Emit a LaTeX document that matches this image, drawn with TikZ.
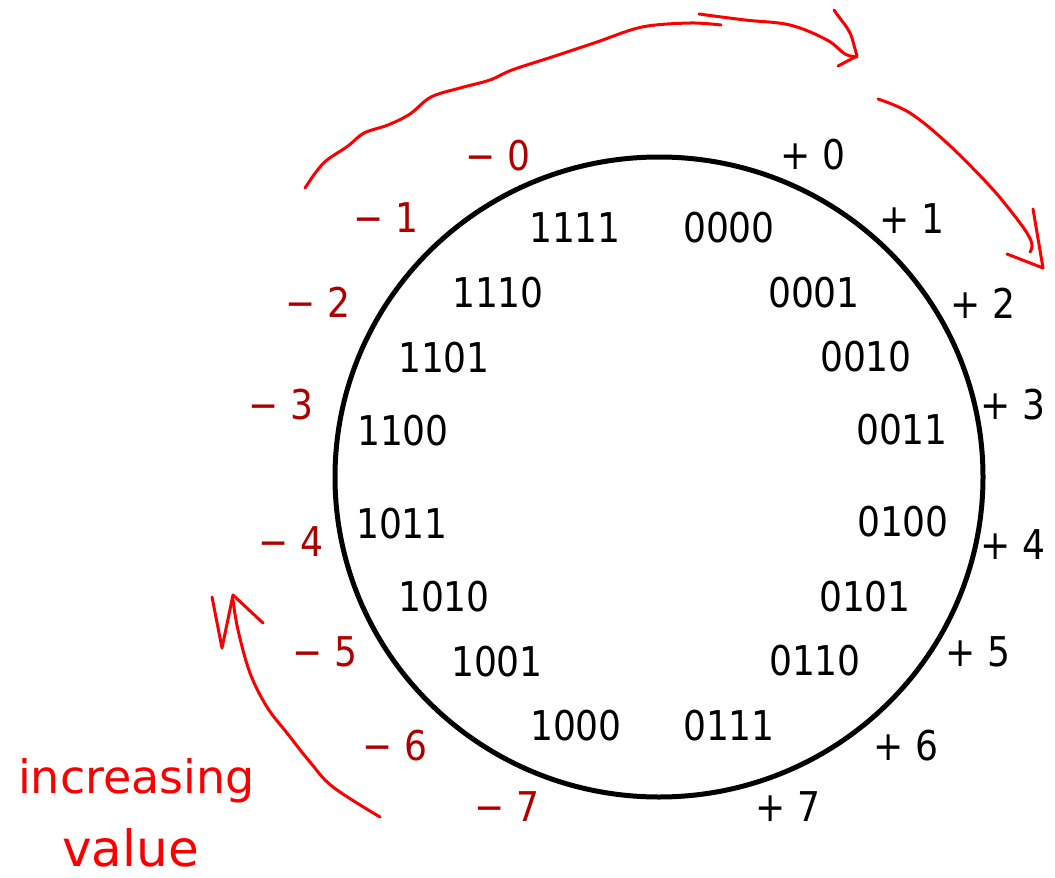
\documentclass[tikz,border=0pt]{standalone}
\usepackage{fontspec}
\setmainfont{DejaVu Sans}[FakeStretch=0.88]
\newfontfamily\handfont{DejaVu Sans}
\definecolor{negred}{RGB}{175,0,0}
\definecolor{handred}{RGB}{250,0,0}
\begin{document}
\begin{tikzpicture}[x=1pt,y=-1pt,
  lbl/.style={inner sep=0pt, font=\fontsize{41}{41}\selectfont},
  bin/.style={lbl, text=black},
  posval/.style={lbl, text=black},
  negval/.style={lbl, text=negred},
  hand/.style={draw=handred, line width=3pt, line cap=round, line join=round},
  handtext/.style={inner sep=0pt, text=handred, anchor=base west}]
\useasboundingbox (0,0) rectangle (1055,878);
\coordinate (c) at (659,477);
\draw[line width=5pt] (c) ellipse [x radius=324, y radius=320];
% binary codes, right half
\node[bin] (b0000) at (729,228) {0000};
\node[bin] (b0001) at (814,293) {0001};
\node[bin] (b0010) at (866,357) {0010};
\node[bin] (b0011) at (902,430) {0011};
\node[bin] (b0100) at (903,522) {0100};
\node[bin] (b0101) at (865,597) {0101};
\node[bin] (b0110) at (815,661) {0110};
\node[bin] (b0111) at (729,726) {0111};
% binary codes, left half
\node[bin] (b1111) at (575,228) {1111};
\node[bin] (b1110) at (498,293) {1110};
\node[bin] (b1101) at (444,358) {1101};
\node[bin] (b1100) at (403,431) {1100};
\node[bin] (b1011) at (402,524) {1011};
\node[bin] (b1010) at (444,597) {1010};
\node[bin] (b1001) at (497,662) {1001};
\node[bin] (b1000) at (576,726) {1000};
% positive values
\node[posval] (p0) at (813,155) {+ 0};
\node[posval] (p1) at (912,219) {+ 1};
\node[posval] (p2) at (983,303) {+ 2};
\node[posval] (p3) at (1013,405) {+ 3};
\node[posval] (p4) at (1013,545) {+ 4};
\node[posval] (p5) at (978,652) {+ 5};
\node[posval] (p6) at (906,746) {+ 6};
\node[posval] (p7) at (788,807) {+ 7};
% negative values
\node[negval] (n0) at (498,156) {− 0};
\node[negval] (n1) at (386,218) {− 1};
\node[negval] (n2) at (318,302) {− 2};
\node[negval] (n3) at (281,405) {− 3};
\node[negval] (n4) at (291,542) {− 4};
\node[negval] (n5) at (325,652) {− 5};
\node[negval] (n6) at (395,746) {− 6};
\node[negval] (n7) at (507,807) {− 7};
% handwritten arrows
\draw[hand] plot[smooth, tension=0.55] coordinates {(305,188) (316,172) (327,160) (348,146) (364,133) (388,125) (410,114) (431,97) (460,88) (490,80) (512,70) (555,56) (597,42) (642,27) (690,23) (721,25)};
\draw[hand] plot[smooth, tension=0.6] coordinates {(699,14) (745,20) (790,25) (827,40) (845,54) (857,57)};
\draw[hand] (834,10) .. controls (842,22) and (849,28) .. (852,38) -- (857,56) -- (838,66);
\draw[hand] plot[smooth, tension=0.6] coordinates {(878,99) (910,113) (947,143) (987,183) (1010,210) (1027,233) (1032,245) (1030,252)};
\draw[hand] (1033,209) -- (1043,268) -- (1007,254);
\draw[hand] plot[smooth, tension=0.6] coordinates {(380,817) (333,787) (310,762) (287,733) (267,707) (250,673) (238,630) (233,600)};
\draw[hand] (212,597) -- (222,648) -- (233,595) -- (263,623);
\node[handtext, font=\handfont\fontsize{46}{46}\selectfont] (inc) at (18,793) {increasing};
\node[handtext, font=\handfont\fontsize{50}{50}\selectfont] (val) at (62,866) {value};
\end{tikzpicture}
\end{document}
